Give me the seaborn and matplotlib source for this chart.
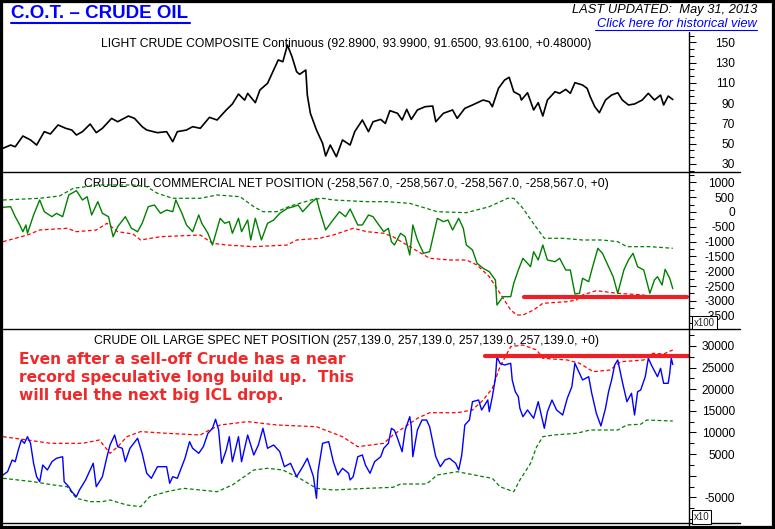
import numpy as np
import pandas as pd
import matplotlib
matplotlib.use("Agg")
import matplotlib.pyplot as plt
from matplotlib.lines import Line2D
from matplotlib.patches import Rectangle
from matplotlib.ticker import FixedLocator, AutoMinorLocator
import seaborn as sns

# weekly COT series, x = weeks since first report
START = pd.Timestamp("2005-01-04")
LAST_WEEK = 448.6

price_weeks = [0, 5, 8, 13, 18, 22, 27, 31, 36, 41, 45, 48, 52, 57, 61, 65, 71, 75, 82, 86,
               91, 94, 101, 107, 111, 114, 120, 124, 129, 135, 140, 146, 150, 154, 158, 160, 165, 168, 173, 176,
               180, 183, 186, 189, 192, 194, 198, 199, 201, 205, 209, 211, 214, 218, 222, 227, 230, 235, 239, 242,
               247, 250, 253, 258, 261, 264, 267, 271, 276, 281, 283, 288, 294, 297, 302, 307, 314, 318, 320, 324,
               328, 331, 334, 338, 339, 343, 347, 350, 353, 356, 361, 364, 368, 371, 374, 379, 382, 384, 387, 390,
               394, 398, 402, 405, 409, 413, 418, 422, 426, 430, 432, 435, 438]
price_vals = [45.5, 48.7, 47.0, 57.6, 53.7, 48.7, 61.9, 59.6, 68.5, 65.2, 63.5, 58.6, 61.9, 69.4, 60.9, 65.2, 75.0, 71.7, 77.3, 75.0,
              66.8, 63.5, 60.9, 61.9, 52.0, 61.9, 63.5, 66.8, 65.2, 76.0, 73.4, 83.3, 89.2, 99.0, 93.0, 99.7, 90.5, 103.0, 109.6, 119.5,
              132.6, 130.9, 147.3, 135.8, 121.0, 118.5, 122.7, 98.0, 80.0, 63.5, 50.4, 37.9, 48.7, 37.2, 53.7, 48.7, 61.9, 73.4, 61.9, 71.7,
              74.0, 70.0, 82.6, 80.0, 73.4, 83.9, 74.0, 83.3, 86.5, 87.2, 71.7, 80.0, 83.3, 75.0, 84.9, 88.2, 93.1, 91.4, 86.5, 104.6,
              112.8, 115.5, 101.3, 98.0, 93.1, 100.3, 83.3, 90.5, 77.3, 93.1, 101.3, 99.7, 103.6, 99.7, 110.2, 107.9, 104.6, 96.4, 86.5, 80.6,
              93.1, 98.0, 100.3, 93.1, 88.2, 89.2, 93.1, 99.7, 93.1, 98.0, 88.2, 97.0, 93.61]

# commercial net position (x100 contracts)
comm_weeks = [0, 5, 8, 11, 13, 15, 16, 20, 24, 27, 32, 35, 39, 43, 48, 52, 55, 58, 62, 65,
              69, 72, 75, 80, 84, 88, 91, 95, 99, 103, 107, 111, 113, 117, 120, 124, 128, 130, 134, 137,
              142, 145, 148, 150, 154, 156, 160, 162, 165, 169, 173, 177, 181, 186, 190, 193, 196, 201, 205, 207,
              211, 215, 220, 224, 227, 232, 235, 239, 242, 245, 249, 252, 254, 256, 260, 263, 266, 268, 271, 275,
              279, 284, 288, 291, 294, 298, 301, 303, 307, 310, 314, 318, 322, 323, 327, 332, 334, 337, 340, 345,
              347, 350, 353, 356, 361, 364, 368, 371, 374, 377, 379, 383, 385, 389, 392, 396, 399, 402, 406, 409,
              412, 415, 419, 423, 426, 428, 431, 433, 436, 438]
comm_vals = [157, 177, -160, -440, -666, -440, -720, -103, 403, 8, -160, -46, -160, 572, 717, 403, 514, -103, 346, -46,
             -160, -835, -497, -160, -551, -666, -383, 177, 234, -46, 66, 8, 403, -46, -440, -666, -103, -383, -720, -1115,
             -215, -383, -328, -720, -215, -666, -272, -946, -215, -946, -383, -272, -46, 123, 177, 234, 8, 290, 460, 66,
             -609, -328, 8, -160, 100, -440, -440, -103, -160, -383, -666, -551, -1003, -1115, -720, -835, -1452, -440, -946, -1395,
             -1340, -215, -328, -272, -609, -215, -551, -1115, -1283, -1732, -1901, -2015, -2296, -3139, -2858, -2858, -2407, -1958, -1563, -1847,
             -1340, -1621, -1115, -1621, -1677, -1563, -1958, -1958, -2768, -2745, -2238, -2353, -1958, -1226, -1395, -1847, -2184, -2745, -1958, -1621,
             -1395, -1847, -1958, -2745, -2296, -2184, -2465, -1935, -2238, -2586]
comm_hi_weeks = [0, 24, 37, 46, 63, 85, 94, 101, 111, 129, 140, 155, 164, 170, 179, 188, 203, 209, 216, 238,
                 251, 266, 284, 303, 318, 330, 334, 340, 346, 354, 366, 379, 392, 402, 408, 423, 438]
comm_hi_vals = [403, 460, 538, 797, 909, 909, 853, 629, 460, 460, 572, 514, 177, 8, 8, 201, 426, 460, 403, 346,
                346, 290, 8, -26, 177, 460, 460, 123, -328, -889, -889, -946, -946, -1003, -1171, -1171, -1226]
comm_lo_weeks = [0, 16, 24, 42, 48, 61, 68, 75, 85, 90, 103, 129, 137, 146, 164, 186, 192, 207, 216, 229,
                 238, 249, 255, 266, 279, 292, 303, 310, 318, 325, 332, 336, 340, 347, 353, 369, 375, 379, 388, 402,
                 419, 423, 428]
comm_lo_vals = [-1003, -778, -609, -551, -666, -609, -383, -666, -744, -946, -835, -778, -1058, -1115, -1171, -1115, -946, -889, -778, -551,
                -666, -720, -835, -1171, -1563, -1621, -1621, -1790, -2184, -2745, -3307, -3476, -3476, -3307, -3082, -3026, -2970, -2801, -2655, -2745,
                -2801, -2914, -2914]

# large spec net position (x10 contracts)
spec_weeks = [0, 3, 6, 8, 10, 12, 14, 16, 18, 20, 22, 24, 26, 29, 32, 35, 39, 40, 43, 45,
              48, 50, 54, 57, 59, 61, 65, 68, 70, 73, 75, 78, 80, 83, 88, 91, 94, 97, 101, 104,
              107, 109, 111, 114, 119, 122, 124, 128, 131, 134, 137, 139, 141, 143, 146, 148, 150, 154, 156, 160,
              164, 167, 170, 173, 177, 181, 184, 188, 192, 196, 199, 203, 205, 206, 209, 213, 216, 219, 222, 226,
              227, 229, 232, 235, 237, 240, 243, 247, 249, 252, 254, 256, 258, 261, 263, 266, 267, 268, 271, 274,
              277, 279, 283, 286, 289, 292, 296, 298, 300, 302, 305, 307, 311, 313, 317, 318, 320, 322, 323, 325,
              328, 332, 333, 335, 337, 338, 340, 343, 347, 350, 352, 354, 356, 359, 362, 366, 369, 372, 374, 376,
              379, 383, 385, 388, 391, 394, 396, 398, 400, 402, 405, 408, 411, 413, 415, 417, 420, 422, 424, 428,
              430, 432, 435, 436, 437, 438]
spec_vals = [160, 930, 3630, 3240, 5950, 8260, 7490, 9020, 7490, 2870, -230, -1390, 2480, 1320, 3240, 4030, 4390, -1390, -2550, -3700,
             -4860, -3310, -990, 1320, 2870, -2550, -230, 4390, 7100, 9410, 6710, 6340, 3240, 6340, 8650, 5180, 560, -600, 2080, 2080,
             2080, -1760, -230, -600, 4030, 7870, 6340, 5180, 6710, 9810, 10960, 13050, 10570, 2870, 5950, 9020, 3240, 9020, 3240, 9410,
             4790, 7100, 10960, 6340, 7100, 5550, 2080, 2870, -230, 2080, 4030, -230, -5230, 930, 7490, 7870, 3240, 160, 1710, 560,
             -990, -230, 4390, 4790, 2480, 560, 3240, 4390, 6340, 7490, 10960, 10500, 8650, 5550, 10570, 13650, 11330, 4390, 10570, 12880,
             12880, 11330, 4390, 2080, 3630, 4030, 2870, 1320, 4790, 11730, 12880, 17120, 17510, 15200, 17510, 14810, 18270, 22530, 27530, 26000,
             25610, 26000, 22140, 19430, 18270, 15590, 13650, 15200, 13280, 17120, 14040, 10960, 14810, 17510, 15200, 14040, 17900, 20590, 26000, 24450,
             22140, 22900, 19060, 14430, 11500, 15590, 19430, 22140, 25610, 26760, 21740, 17120, 19060, 14040, 19430, 19820, 22900, 27160, 25610, 22900,
             24840, 21370, 21370, 23690, 27160, 25714]
spec_hi_weeks = [0, 16, 31, 52, 63, 70, 75, 81, 90, 107, 129, 135, 142, 160, 179, 205, 222, 232, 249, 255,
                 271, 279, 297, 307, 314, 320, 325, 332, 340, 349, 353, 369, 377, 386, 397, 404, 419, 425, 432, 438]
spec_hi_vals = [9020, 8260, 7490, 7490, 8260, 5180, 6710, 9020, 10200, 9810, 9410, 10570, 11730, 12500, 11730, 11330, 9020, 6710, 7490, 9410,
                13280, 14570, 14570, 15200, 17510, 20220, 25220, 29840, 30230, 29080, 27160, 26760, 26000, 24060, 24450, 26370, 26760, 28310, 28150, 29080]
spec_lo_weeks = [0, 20, 33, 42, 48, 57, 65, 70, 81, 90, 96, 107, 118, 140, 150, 164, 173, 183, 194, 205,
                 216, 238, 255, 260, 277, 284, 297, 314, 320, 325, 334, 338, 345, 349, 353, 360, 375, 384, 402, 408,
                 417, 421, 438]
spec_lo_vals = [-600, -1390, -2150, -2550, -5230, -6000, -6000, -5620, -6780, -7170, -4860, -3700, -2920, -3700, -2150, 1320, 1710, 1320, -600, -2920,
                -3310, -2920, -2690, -1920, -1920, 160, 930, -230, -600, -2550, -3700, -990, 2870, 6710, 9020, 9410, 9810, 10570, 10570, 11730,
                11900, 12880, 12650]

# hand-drawn levels
comm_support = -2860
comm_support_weeks = [341, 447]
spec_resist = 27670
spec_resist_weeks = [315, 448.6]

price_ticks = [30, 50, 70, 90, 110, 130, 150]
comm_ticks = [-3500, -3000, -2500, -2000, -1500, -1000, -500, 0, 500, 1000]
spec_ticks = [-5000, 0, 5000, 10000, 15000, 20000, 25000, 30000]
spec_tick_labels = ["-5000", "", "5000", "10000", "15000", "20000", "25000", "30000"]

titles = ["LIGHT CRUDE COMPOSITE Continuous (92.8900, 93.9900, 91.6500, 93.6100, +0.48000)",
          "CRUDE OIL COMMERCIAL NET POSITION (-258,567.0, -258,567.0, -258,567.0, -258,567.0, +0)",
          "CRUDE OIL LARGE SPEC NET POSITION (257,139.0, 257,139.0, 257,139.0, 257,139.0, +0)"]
note = ("Even after a sell-off Crude has a near\n"
        "record speculative long build up.  This\n"
        "will fuel the next big ICL drop.")

sns.set_style("white")
plt.rcParams['font.family'] = ['Liberation Sans', 'DejaVu Sans']

W, H = 775, 529
fig = plt.figure(figsize=(W / 100, H / 100), dpi=100)


def fx(px):
    return px / W


def fy(py):
    return 1 - py / H


def to_dates(weeks):
    return START + pd.to_timedelta(np.asarray(weeks, dtype=float) * 7, unit="D")


def panel(top, bottom):
    return fig.add_axes([fx(3), fy(bottom), fx(689) - fx(3), fy(top) - fy(bottom)])


ax1 = panel(32, 172)
ax2 = panel(172, 329)
ax3 = panel(329, 523)

dash = (0, (3, 2))

sns.lineplot(x=to_dates(price_weeks), y=price_vals, ax=ax1, color="black", linewidth=1.2,
             estimator=None, sort=False, zorder=3)

sns.lineplot(x=to_dates(comm_hi_weeks), y=comm_hi_vals, ax=ax2, color="#008000", linewidth=0.9,
             linestyle=dash, estimator=None, sort=False)
sns.lineplot(x=to_dates(comm_lo_weeks), y=comm_lo_vals, ax=ax2, color="#ff0000", linewidth=0.9,
             linestyle=dash, estimator=None, sort=False)
sns.lineplot(x=to_dates(comm_weeks), y=comm_vals, ax=ax2, color="#008000", linewidth=1.0,
             estimator=None, sort=False, zorder=3)
sns.lineplot(x=to_dates(comm_support_weeks), y=[comm_support] * 2, ax=ax2, color="#ec2027",
             linewidth=3.0, estimator=None, sort=False, zorder=4)

sns.lineplot(x=to_dates(spec_hi_weeks), y=spec_hi_vals, ax=ax3, color="#ff0000", linewidth=0.9,
             linestyle=dash, estimator=None, sort=False)
sns.lineplot(x=to_dates(spec_lo_weeks), y=spec_lo_vals, ax=ax3, color="#008000", linewidth=0.9,
             linestyle=dash, estimator=None, sort=False)
sns.lineplot(x=to_dates(spec_weeks), y=spec_vals, ax=ax3, color="#0000ff", linewidth=1.0,
             estimator=None, sort=False, zorder=3)
sns.lineplot(x=to_dates(spec_resist_weeks), y=[spec_resist] * 2, ax=ax3, color="#ec2027",
             linewidth=3.0, estimator=None, sort=False, zorder=4)

setup = [
    (ax1, (22.1, 160.2), price_ticks, [str(t) for t in price_ticks], 3, 47.5, 140),
    (ax2, (-3948, 1347), comm_ticks, [str(t) for t in comm_ticks], 2, 187, 157),
    (ax3, (-10940, 33932), spec_ticks, spec_tick_labels, 2, 344, 194),
]
tops = [32, 172, 329]
for (ax, ylim, ticks, labels, nminor, base_y, hgt), title, top in zip(setup, titles, tops):
    ax.set_xlim(START, START + pd.Timedelta(weeks=LAST_WEEK))
    ax.set_ylim(*ylim)
    ax.set_xticks([])
    ax.set_xlabel("")
    ax.set_ylabel("")
    for side in ["top", "bottom", "left", "right"]:
        ax.spines[side].set_visible(False)
    ax.yaxis.tick_right()
    ax.yaxis.set_major_locator(FixedLocator(ticks))
    ax.set_yticklabels(labels)
    ax.yaxis.set_minor_locator(AutoMinorLocator(nminor))
    ax.tick_params(axis="y", which="major", direction="out", length=5.0, width=0.75,
                   pad=28, labelsize=8.6, colors="black")
    ax.tick_params(axis="y", which="minor", direction="out", length=3.6, width=0.75, colors="black")
    for t in ax.yaxis.get_major_ticks():
        t.label1.set_horizontalalignment("right")
        t.label2.set_horizontalalignment("right")
    ax.patch.set_alpha(0)
    ax.text(0.5, (top + hgt - base_y) / hgt, title, transform=ax.transAxes, ha="center",
            va="baseline", fontsize=8.7, color="black", zorder=1)

# frame lines
for yy in [172, 329, 523]:
    fig.add_artist(Line2D([fx(3), fx(740)], [fy(yy), fy(yy)], color="black", lw=1.0))
fig.add_artist(Line2D([fx(689), fx(689)], [fy(32), fy(527)], color="black", lw=1.0))
fig.add_artist(Rectangle((0, 0), 1, 1, transform=fig.transFigure, fill=False,
                         edgecolor="black", linewidth=4.5))

# multiplier boxes (they sit over the lowest tick label, as in the source chart)
box = dict(boxstyle="square,pad=0.18", fc="white", ec="black", lw=0.75)
fig.text(fx(694), fy(322.5), "x100", fontsize=7, ha="left", va="center", bbox=box, zorder=5)
fig.text(fx(694), fy(517), "x10", fontsize=7, ha="left", va="center", bbox=box, zorder=5)

# header
fig.text(fx(11), fy(18.5), "C.O.T. \u2013 CRUDE OIL", color="#0000ff", fontsize=13.5,
         fontweight="bold", ha="left", va="baseline")
fig.add_artist(Line2D([fx(11), fx(190)], [fy(22.5), fy(22.5)], color="#0000ff", lw=1.5))
fig.text(fx(757), fy(13), "LAST UPDATED:  May 31, 2013", style="italic", fontsize=9.3,
         ha="right", va="baseline", color="black")
fig.text(fx(757), fy(27.5), "Click here for historical view", style="italic", fontsize=9.3,
         ha="right", va="baseline", color="#0000ff")
fig.add_artist(Line2D([fx(595), fx(757)], [fy(30), fy(30)], color="#0000ff", lw=0.8))

# annotation
fig.text(fx(19), fy(351.5), note, color="#ee2a2a", fontsize=11.2, fontweight="bold",
         family=["DejaVu Sans"], ha="left", va="top", linespacing=1.27)

fig.savefig("out.png", dpi=100)
